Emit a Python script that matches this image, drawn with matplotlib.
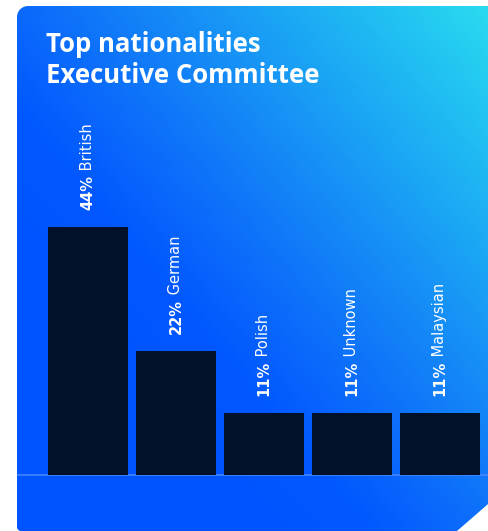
import matplotlib
matplotlib.use('Agg')
import matplotlib.pyplot as plt
import numpy as np
from matplotlib.path import Path
from matplotlib.patches import PathPatch
from matplotlib.colors import LinearSegmentedColormap

# data
nationalities = ['British', 'German', 'Polish', 'Unknown', 'Malaysian']
shares = [44, 22, 11, 11, 11]
title_lines = ['Top nationalities', 'Executive Committee']

W, H = 489, 531
fig = plt.figure(figsize=(W/100, H/100), dpi=100)
fig.patch.set_facecolor('white')

# background card (pixel coords, y down)
bg = fig.add_axes([0, 0, 1, 1])
bg.set_xlim(0, W)
bg.set_ylim(H, 0)
bg.axis('off')

def arc(cx, cy, r, a0, a1, n=12):
    a = np.radians(np.linspace(a0, a1, n))
    return list(zip(cx + r*np.cos(a), cy + r*np.sin(a)))

L, T, R, B = 17, 6, 495, 531
pts = []
pts += arc(L+11, T+11, 11, 180, 270)       # top-left corner
pts += [(R, T), (R, 498), (457, B)]        # right side, cut corner
pts += arc(L+4, B-4, 4, 90, 180)           # bottom-left corner
pts.append(pts[0])
card = PathPatch(Path(pts), facecolor='none', edgecolor='none')
bg.add_patch(card)

# diagonal gradient, deep blue bottom-left -> cyan top-right
yy, xx = np.mgrid[0:H, 0:W] + 0.5
g = 126 + 0.25*(xx - 200) + 0.21*(110 - yy)
lo, hi = 60, 222
stops = [(60, '#0055ff'), (80, '#0058ff'), (100, '#0a67fc'),
         (126, '#127ef8'), (196, '#22c4f2'), (222, '#2bdcef')]
cmap = LinearSegmentedColormap.from_list(
    'card', [((v - lo)/(hi - lo), c) for v, c in stops])
im = bg.imshow(g, cmap=cmap, extent=(0, W, H, 0), vmin=lo, vmax=hi,
               interpolation='bilinear', aspect='auto')
im.set_clip_path(card)
bg.plot([L, R], [475, 475], color='#4585ff', lw=1.2, clip_path=card)

for i, line in enumerate(title_lines):
    bg.text(46, 52 + 31*i, line, color='white', fontsize=18.5, fontweight='bold',
            family='Open Sans', va='baseline', ha='left')

# bars
ax = fig.add_axes([44/W, 56/H, 440/W, 469/H])
ax.set_xlim(-0.5, 4.5)
ax.set_ylim(0, 469/5.636)
ax.axis('off')
x = np.arange(len(shares))
ax.bar(x, shares, width=80/88, color='#001129', linewidth=0)

for xi, v, name in zip(x, shares, nationalities):
    t1 = ax.annotate(f'{v}%', xy=(xi, v), xytext=(0, 12), textcoords='offset points',
                     rotation=90, ha='center', va='bottom', color='white',
                     fontsize=10.5, fontweight='bold', family='DejaVu Sans')
    ax.annotate(f' {name}', xy=(0.5, 1), xycoords=t1, rotation=90,
                ha='center', va='bottom', color='white', fontsize=10.5,
                family='DejaVu Sans')

fig.savefig('out.png', dpi=100)
